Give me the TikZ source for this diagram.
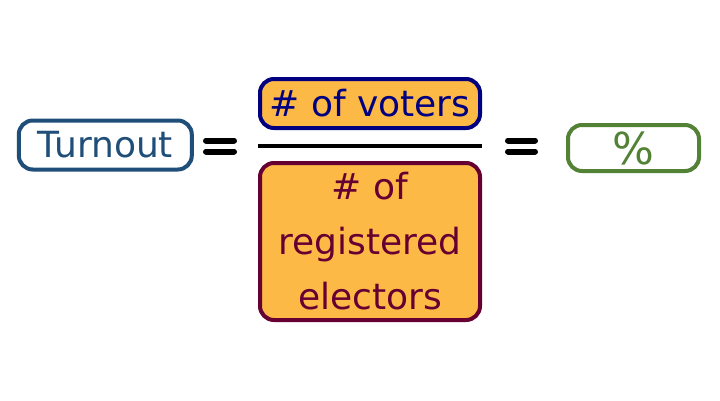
\documentclass[tikz,border=0pt]{standalone}
\usepackage{fontspec}
\setmainfont{DejaVu Sans}
\definecolor{turnblue}{HTML}{1F4E79}
\definecolor{fillor}{HTML}{FDB945}
\definecolor{navyb}{HTML}{000080}
\definecolor{maroonb}{HTML}{660033}
\definecolor{greenb}{HTML}{538135}
\tikzset{
  pill/.style={draw, line width=4pt, rounded corners=14pt, inner sep=0pt, align=center},
  eqbar/.style={line width=6pt, line cap=round, black},
  txt/.style={font=\fontsize{36}{55}\selectfont},
}
\begin{document}
\begin{tikzpicture}[x=1pt,y=-1pt]
\useasboundingbox (0,0) rectangle (720,400);
\fill[white] (0,0) rectangle (720,400);
% Turnout
\node[pill, draw=turnblue, text=turnblue, txt, minimum width=173pt, minimum height=49pt] (turnout) at (105.3,145) {\raisebox{2pt}{Turnout}};
% first equals
\coordinate (e1a) at (206,140.5); \coordinate (e1b) at (234,140.5);
\coordinate (e1c) at (206,151.5); \coordinate (e1d) at (234,151.5);
\draw[eqbar] (e1a) -- (e1b);
\draw[eqbar] (e1c) -- (e1d);
% numerator
\node[pill, draw=navyb, fill=fillor, text=navyb, txt, minimum width=220pt, minimum height=49pt] (num) at (370,103.5) {\# of voters};
% fraction bar
\coordinate (fa) at (258,146); \coordinate (fb) at (482,146);
\draw[line width=4pt, black] (fa) -- (fb);
% denominator
\node[pill, draw=maroonb, fill=fillor, text=maroonb, txt, minimum width=220pt, minimum height=157pt] (den) at (370,241.5) {\# of\\registered\\electors};
% second equals
\coordinate (e2a) at (508,140.5); \coordinate (e2b) at (535,140.5);
\coordinate (e2c) at (508,151.5); \coordinate (e2d) at (535,151.5);
\draw[eqbar] (e2a) -- (e2b);
\draw[eqbar] (e2c) -- (e2d);
% result
\node[pill, draw=greenb, text=greenb, font=\fontsize{44}{50}\selectfont, minimum width=131pt, minimum height=46pt] (pct) at (633.5,148) {\%};
\end{tikzpicture}
\end{document}
